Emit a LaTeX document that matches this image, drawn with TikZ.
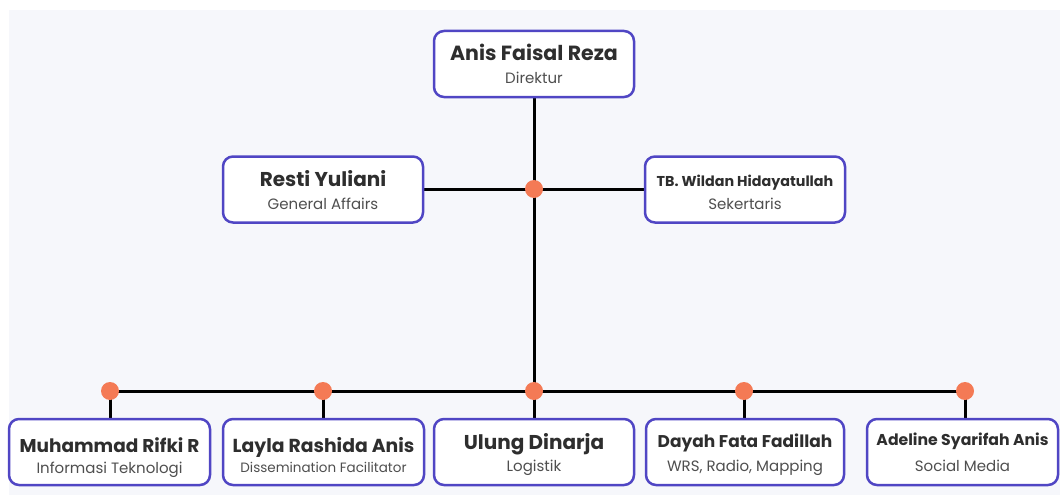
\documentclass[tikz,border=0pt]{standalone}
\usepackage{fontspec}
\setmainfont{Poppins}
\usetikzlibrary{backgrounds}
\definecolor{bgc}{HTML}{F6F7FB}
\definecolor{boxc}{HTML}{5046C4}
\definecolor{dotc}{HTML}{F47A55}
\definecolor{namec}{HTML}{2E2E2E}
\definecolor{subc}{HTML}{4F4F4F}
\tikzset{
  card/.style={draw=boxc, line width=2.5pt, rounded corners=10pt, fill=white,
    minimum width=200pt, minimum height=66pt, inner sep=0pt,
    text=namec, font=\fontsize{15}{24}\selectfont},
  tpos/.style 2 args={text height=#1pt, text depth=#2pt},
  junction/.style={circle, fill=dotc, minimum size=18pt, inner sep=0pt},
  link/.style={line width=3pt, black},
}
\newsavebox\cardA
\newsavebox\cardB
\newdimen\cardW
\newcommand{\cardtext}[4][24]{%
  \sbox\cardA{\fontsize{#2}{#1}\selectfont\bfseries #3}%
  \sbox\cardB{\fontsize{15}{#1}\selectfont\color{subc}#4}%
  \cardW=\wd\cardA
  \ifdim\wd\cardB>\cardW \cardW=\wd\cardB\fi
  \vtop{\baselineskip=#1pt\lineskiplimit=-100pt\lineskip=0pt
    \hbox to\cardW{\hfil\usebox\cardA\hfil}
    \hbox to\cardW{\hfil\usebox\cardB\hfil}}}
\begin{document}
\begin{tikzpicture}[x=1pt,y=-1pt]
\useasboundingbox (0,0) rectangle (1060,495);
\begin{scope}[on background layer]
\fill[white] (0,0) rectangle (1060,495);
\fill[bgc] (9,10) rectangle (1060,495);
\end{scope}
% cards
\node[card, tpos={21}{29}] (top) at (534,64) {\cardtext{20.5}{Anis Faisal Reza}{Direktur}};
\node[card, tpos={22}{28}] (resti) at (323,189.5) {\cardtext[23]{20}{Resti Yuliani}{General Affairs}};
\node[card, tpos={21.5}{28.5}] (tb) at (745,189.5) {\cardtext[23.5]{14.3}{TB. Wildan Hidayatullah}{Sekertaris}};
\node[card, tpos={26.5}{25.5}, minimum width=201pt] (rifki) at (109.5,452) {\cardtext[20.5]{18.5}{Muhammad Rifki R}{Informasi Teknologi}};
\node[card, tpos={25}{25}, minimum width=201pt] (layla) at (323.5,452) {\cardtext[20]{18.8}{Layla Rashida Anis}{\fontsize{13.5}{20}\selectfont Dissemination Facilitator}};
\node[card, tpos={21}{27}] (ulung) at (534,452) {\cardtext[22]{20}{Ulung Dinarja}{Logistik}};
\node[card, tpos={19}{29}, minimum width=198pt] (dayah) at (745,452) {\cardtext{17}{Dayah Fata Fadillah}{WRS, Radio, Mapping}};
\node[card, tpos={17.5}{30.5}, minimum width=191pt] (adeline) at (962.5,452) {\cardtext[25.5]{15.7}{Adeline Syarifah Anis}{Social Media}};
% junctions
\node[junction] (jm) at (534,189) {};
\node[junction] (j1) at (110,391) {};
\node[junction] (j2) at (323,391) {};
\node[junction] (j3) at (534,391) {};
\node[junction] (j4) at (744,391) {};
\node[junction] (j5) at (965,391) {};
% links
\begin{scope}[on background layer]
\draw[link] (top.south) -- (ulung.north);
\draw[link] (resti.east) -- (tb.west);
\draw[link] (j1.center) -- (j5.center);
\draw[link] (j1.center) -- (j1.center |- rifki.north);
\draw[link] (j2.center) -- (j2.center |- layla.north);
\draw[link] (j4.center) -- (j4.center |- dayah.north);
\draw[link] (j5.center) -- (j5.center |- adeline.north);
\end{scope}
\end{tikzpicture}
\end{document}
